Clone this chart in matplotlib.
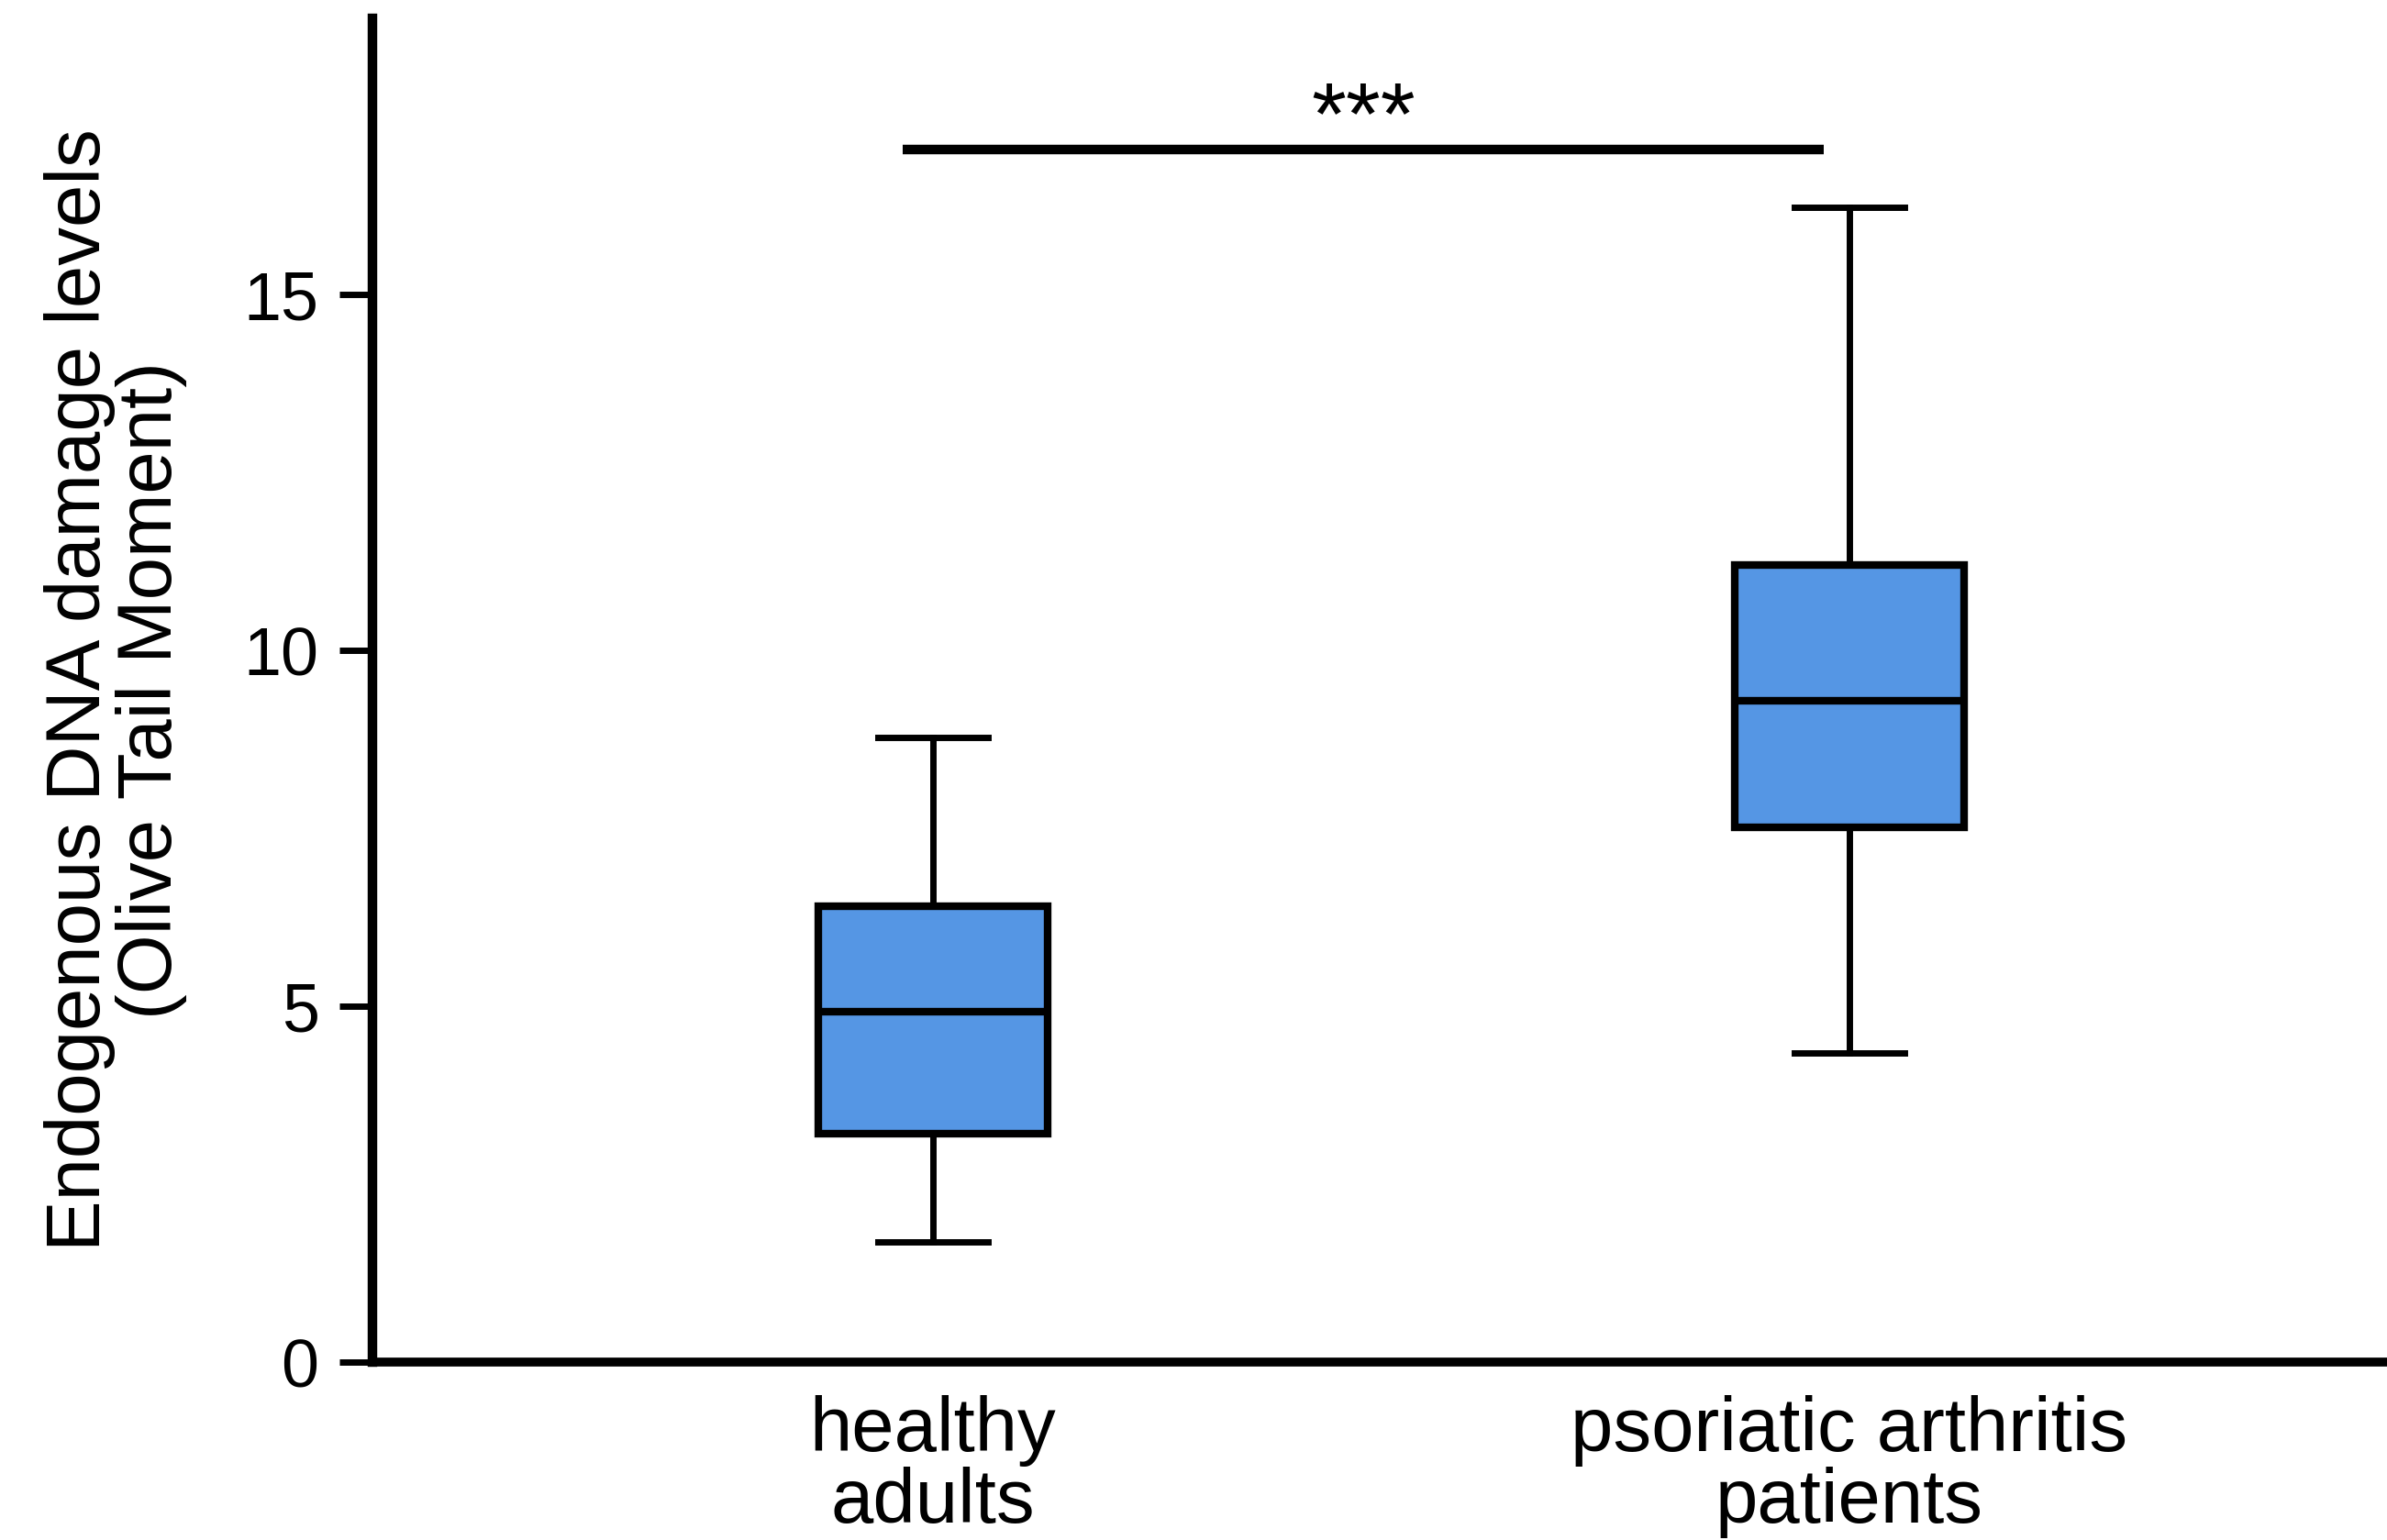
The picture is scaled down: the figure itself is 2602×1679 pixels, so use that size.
import matplotlib
matplotlib.use('Agg')
import matplotlib.pyplot as plt

groups = ['healthy\nadults', 'psoriatic arthritis\npatients']
whisker_low = [1.69, 4.35]
q1 = [3.21, 7.52]
median = [4.93, 9.29]
q3 = [6.40, 11.20]
whisker_high = [8.78, 16.23]
sig_label = '***'

plt.rcParams['font.family'] = ['Liberation Sans', 'DejaVu Sans']

fig = plt.figure(figsize=(26.02, 16.79), dpi=100)
ax = fig.add_axes([0.156, 0.1155, 0.844, 0.8725])

stats = []
for i in range(len(groups)):
    stats.append({'whislo': whisker_low[i], 'q1': q1[i], 'med': median[i],
                  'q3': q3[i], 'whishi': whisker_high[i], 'fliers': []})

ax.bxp(stats, positions=[1, 2], widths=0.25, patch_artist=True,
       showfliers=False, capwidths=0.12,
       boxprops=dict(facecolor='#5596e4', edgecolor='black', linewidth=6),
       medianprops=dict(color='black', linewidth=6),
       whiskerprops=dict(color='black', linewidth=5),
       capprops=dict(color='black', linewidth=5))

# significance bar
ax.plot([0.967, 1.972], [17.04, 17.04], color='black', lw=7.5, solid_capstyle='butt')
ax.text(1.47, 16.86, sig_label, ha='center', va='bottom', fontsize=70)

ax.set_xlim(0.388, 2.587)
ax.set_ylim(0, 18.88)
ax.set_yticks([0, 5, 10, 15])
ax.set_xticks([1, 2])
ax.set_xticklabels(groups, fontsize=60, linespacing=1.0)
ax.tick_params(axis='x', length=0, pad=26)
ax.tick_params(axis='y', length=26, width=5, labelsize=53, pad=16)

for s in ['top', 'right']:
    ax.spines[s].set_visible(False)
ax.spines['left'].set_linewidth(7.5)
ax.spines['bottom'].set_linewidth(7)

ax.set_ylabel('Endogenous DNA damage levels\n(Olive Tail Moment)', fontsize=60, linespacing=1.0)
ax.yaxis.set_label_coords(-0.092, 0.5)

fig.savefig('out.png', dpi=100)
